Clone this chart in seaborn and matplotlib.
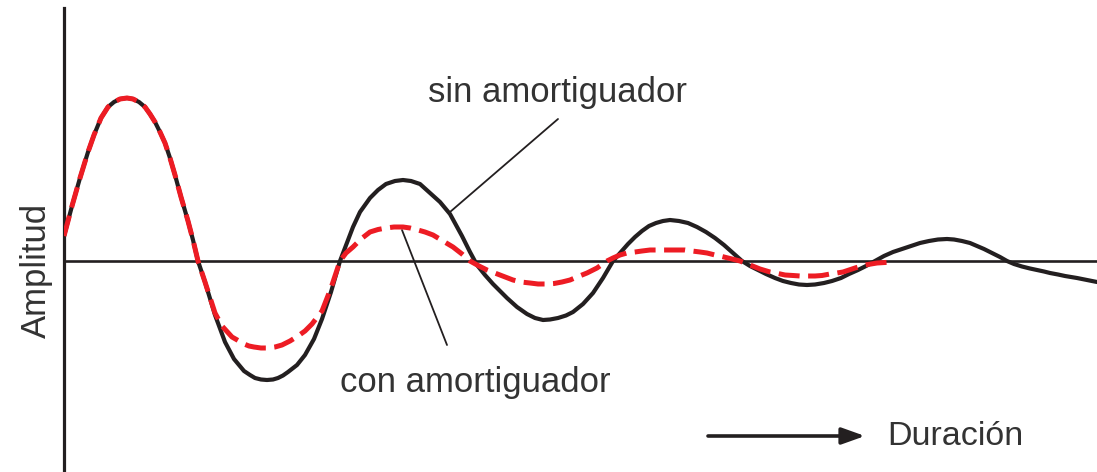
import numpy as np
import pandas as pd
import matplotlib
matplotlib.use("Agg")
import matplotlib.pyplot as plt
import seaborn as sns

# ---- data (time units, amplitude units) ----
t_sin = [0, 8, 16, 24, 30, 37, 44, 50, 56, 63, 69, 75, 81, 86, 91, 96, 101, 106, 111, 117, 124, 129, 134,
         141, 151, 161, 170, 180, 186, 191, 197, 203, 209, 214, 219, 224, 233, 241, 250, 258, 267, 276,
         284, 289, 296, 306, 314, 322, 331, 339, 347, 356, 366, 376, 386, 398, 406,
         413, 421, 429, 443, 453, 463, 471, 479, 486, 494, 502, 509, 519, 529, 539, 549,
         557, 564, 571, 578, 585, 592, 599, 606, 615, 624, 633, 642, 651, 660, 669, 678,
         686, 694, 702, 711, 719, 727, 735, 743, 751, 760, 768, 777, 785, 794, 802, 811,
         820, 829, 838, 847, 856, 865, 874, 883, 890, 898, 906, 913, 920, 928, 936, 943,
         950, 958, 966, 973, 980, 986, 994, 1001, 1007, 1013, 1018, 1023, 1028, 1033]
a_sin = [25, 55, 83, 109, 126, 143, 154, 159, 162, 163, 162, 159, 154, 147, 139, 129, 118, 103, 86, 64, 40, 21, 0,
         -21, -54, -81, -98, -110, -114, -117, -118.5, -119, -118.5, -117, -114.5, -111, -104, -94, -78, -58, -31, 0,
         21, 34, 49, 63, 71, 77, 80, 81, 80, 77, 68, 59, 47, 25, 9,
         -4, -14, -23, -37, -46, -53, -57, -59, -58.5, -57, -54.5, -51, -43, -32, -17, 0,
         9, 17, 24, 30, 35, 38, 40, 41, 40, 38, 34, 29, 23, 16, 8, 0,
         -5, -9, -13, -17, -20, -22, -23.5, -24, -23.5, -22, -20, -17, -13, -9, -5, 0,
         5, 9, 12, 15, 18, 20, 21.5, 22, 21.5, 20, 18, 15, 12, 8, 4, 0,
         -3, -5.5, -7.5, -9, -10.5, -12, -13.5, -15, -16, -17, -18, -19, -20, -21]

t_con = [0, 8, 16, 24, 30, 37, 44, 50, 56, 63, 69, 75, 81, 86, 91, 96, 101, 106, 111, 117, 124, 129, 134,
         141, 151, 158, 168, 175, 180, 185, 190, 197, 204, 211, 218, 226, 234, 241, 248, 258, 267, 276,
         282, 289, 297, 306, 314, 322, 330, 339, 346, 354, 361, 369, 379, 389, 398, 406,
         415, 423, 436, 449, 457, 466, 474, 483, 490, 498, 506, 513, 523, 533, 543,
         549, 556, 563, 571, 578, 586, 594, 603, 612, 621, 628, 636, 643, 651, 658, 664, 670, 676,
         681, 686, 696, 706, 714, 721, 729, 736, 744, 751, 758, 766, 773, 779, 785, 791, 796, 801, 807, 813, 821, 829]
a_con = [25, 55, 83, 109, 126, 143, 154, 159, 162, 163, 162, 159, 154, 147, 139, 129, 118, 103, 86, 64, 40, 21, 0,
         -21, -52, -65, -76, -80, -83, -85, -86, -87, -87, -86, -84, -80, -75, -70, -63, -50, -27, 0,
         8, 14, 22, 29, 31.5, 33, 34, 34, 33, 31, 29, 26, 20, 14, 7, 0,
         -5, -9, -14, -19, -21, -22, -23, -23, -22.5, -21, -19, -16, -12, -7, 0,
         3, 6, 8, 9, 10, 11, 11, 11, 11, 11, 10, 9, 8, 6, 4.5, 3, 1.5, 0,
         -2, -4, -8, -11, -12.5, -14, -14.5, -15, -15, -15, -14.5, -13, -12, -11, -9, -7, -5.5, -4, -3, -2, -1.5, -1]

label_sin = "sin amortiguador"
label_con = "con amortiguador"
label_y = "Amplitud"
label_x = "Duración"

df_sin = pd.DataFrame({"t": t_sin, "a": a_sin})
df_con = pd.DataFrame({"t": t_con, "a": a_con})

# ---- style ----
sns.set_theme(style="white")
plt.rcParams["font.family"] = ["Liberation Sans", "DejaVu Sans"]

BLACK = "#231f20"
RED = "#ed1c24"
TXT = "#333333"

W, H = 1097, 472
fig = plt.figure(figsize=(W / 100, H / 100), dpi=100)
ax = fig.add_axes([64 / W, 0, (W - 64) / W, (H - 8) / H])
ax.set_xlim(0, W - 64)
ax.set_ylim(-(H - 261), 261 - 8)

# baseline
ax.axhline(0, color=BLACK, lw=1.9, zorder=1)

sns.lineplot(data=df_sin, x="t", y="a", sort=False, estimator=None,
             color=BLACK, lw=3.0, ax=ax, zorder=3)
ax.lines[-1].set_solid_joinstyle("round")
ax.lines[-1].set_solid_capstyle("round")
sns.lineplot(data=df_con, x="t", y="a", sort=False, estimator=None,
             color=RED, lw=3.6, ax=ax, zorder=4)
ax.lines[-1].set_linestyle((0, (4.2, 1.7)))
ax.lines[-1].set_dash_joinstyle("round")

# spines
for s in ["top", "right", "bottom"]:
    ax.spines[s].set_visible(False)
ax.spines["left"].set_color(BLACK)
ax.spines["left"].set_linewidth(2.3)
ax.set_xticks([])
ax.set_yticks([])
ax.set_xlabel("")
ax.set_ylabel("")

# annotations
ax.text(494, 159, label_sin, ha="center", va="baseline", fontsize=25, color=TXT)
ax.annotate("", xy=(386, 49), xytext=(494, 142),
            arrowprops=dict(arrowstyle="-", lw=1.3, color=BLACK,
                            shrinkA=0, shrinkB=0))
ax.text(411, -131, label_con, ha="center", va="baseline", fontsize=25, color=TXT)
ax.annotate("", xy=(383, -84), xytext=(338, 31),
            arrowprops=dict(arrowstyle="-", lw=1.3, color=BLACK,
                            shrinkA=0, shrinkB=0))

# duration arrow and label
ax.annotate("", xy=(801, -175), xytext=(644, -175),
            arrowprops=dict(arrowstyle="-|>,head_length=0.7,head_width=0.25",
                            mutation_scale=20, lw=2.6, color=BLACK,
                            shrinkA=0, shrinkB=0))
ax.text(823, -184, label_x, ha="left", va="baseline", fontsize=24.5, color=TXT)

# y label
ax.text(-28, -9, label_y, ha="center", va="center", rotation=90,
        fontsize=25, color=TXT, clip_on=False)

fig.savefig("out.png", dpi=100)
